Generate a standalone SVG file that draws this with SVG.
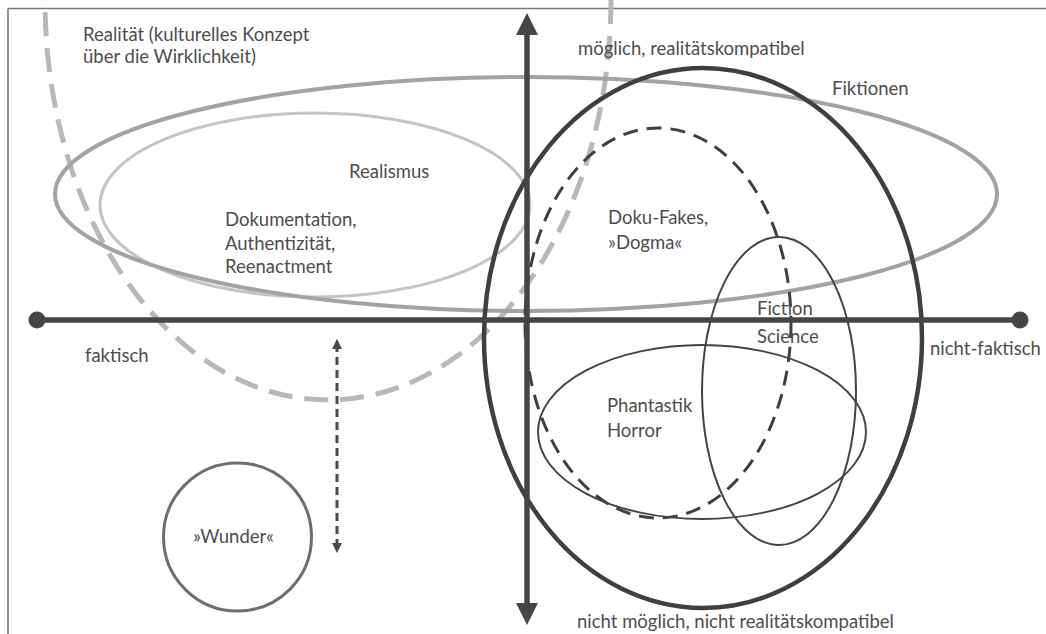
<svg xmlns="http://www.w3.org/2000/svg" width="1046" height="634" viewBox="0 0 1046 634">
<style>
text{font-family:Lato,"Open Sans","DejaVu Sans",sans-serif;font-size:18.5px;fill:#4d4d4d}
.frame{stroke:#777;stroke-width:1.6;fill:none}
.axis{stroke:#454545;stroke-width:5.5;fill:none}
.realitaet{stroke:#b8b8b8;stroke-width:5;fill:none;stroke-dasharray:24 12}
.fikt{stroke:#a3a3a3;stroke-width:4;fill:none}
.realismus{stroke:#c4c4c4;stroke-width:3;fill:none}
.moeglich{stroke:#3f3f3f;stroke-width:4.5;fill:none}
.doku{stroke:#3f3f3f;stroke-width:3;fill:none;stroke-dasharray:15 9}
.thin{stroke:#444;stroke-width:2;fill:none}
.wunder{stroke:#6e6e6e;stroke-width:3;fill:none}
.darrow{stroke:#4a4a4a;stroke-width:3;stroke-dasharray:8 5;fill:none}
</style>
<defs>
<marker id="ah" viewBox="0 0 10 10" refX="5" refY="5" markerWidth="4" markerHeight="4" orient="auto-start-reverse">
<path d="M0,0 L10,5 L0,10 z" fill="#454545"/>
</marker>
<marker id="ahs" viewBox="0 0 10 10" refX="5" refY="5" markerWidth="3.4" markerHeight="3.4" orient="auto-start-reverse">
<path d="M0,0 L10,5 L0,10 z" fill="#4a4a4a"/>
</marker>
</defs>
<rect width="1046" height="634" fill="#fff"/>
<g id="frame">
<line class="frame" x1="8" y1="8.5" x2="1046" y2="8.5"/>
<line class="frame" x1="8" y1="8.5" x2="8" y2="634"/>
</g>
<g id="realitaet"><ellipse class="realitaet" cx="328" cy="0" rx="283" ry="400"/></g>
<g id="realismus"><ellipse class="realismus" cx="315" cy="205" rx="215" ry="92"/></g>
<g id="fiktionen"><ellipse class="fikt" cx="526" cy="194" rx="471" ry="117"/></g>
<g id="moeglich-ellipse"><ellipse class="moeglich" cx="703" cy="338" rx="219" ry="270"/></g>
<g id="dokufakes"><ellipse class="doku" cx="658" cy="323" rx="133" ry="195"/></g>
<g id="sciencefiction"><ellipse class="thin" cx="779" cy="391" rx="77" ry="154"/></g>
<g id="phantastik"><ellipse class="thin" cx="702" cy="432" rx="164" ry="87"/></g>
<g id="wunder"><circle class="wunder" cx="237.5" cy="537" r="74"/></g>
<g id="connectors">
<line class="axis" x1="37" y1="320" x2="1020" y2="320"/>
<circle cx="37" cy="320" r="8.5" fill="#454545"/>
<circle cx="1020" cy="320" r="8.5" fill="#454545"/>
<line class="axis" x1="527" y1="24" x2="527" y2="614" marker-start="url(#ah)" marker-end="url(#ah)"/>
<line class="darrow" x1="337" y1="344" x2="337" y2="548" marker-start="url(#ahs)" marker-end="url(#ahs)"/>
</g>
<g id="labels">
<text x="83" y="41">Realität (kulturelles Konzept</text>
<text x="83" y="63">über die Wirklichkeit)</text>
<text x="578" y="55">möglich, realitätskompatibel</text>
<text x="832" y="95">Fiktionen</text>
<text x="349" y="178">Realismus</text>
<text x="225" y="226">Dokumentation,</text>
<text x="225" y="250">Authentizität,</text>
<text x="225" y="273">Reenactment</text>
<text x="608" y="224">Doku-Fakes,</text>
<text x="608" y="249">»Dogma«</text>
<text x="757" y="315">Fiction</text>
<text x="757" y="343">Science</text>
<text x="85" y="362">faktisch</text>
<text x="930" y="355">nicht-faktisch</text>
<text x="607" y="412">Phantastik</text>
<text x="607" y="437">Horror</text>
<text x="193" y="543">»Wunder«</text>
<text x="577" y="628">nicht möglich, nicht realitätskompatibel</text>
</g>
</svg>
